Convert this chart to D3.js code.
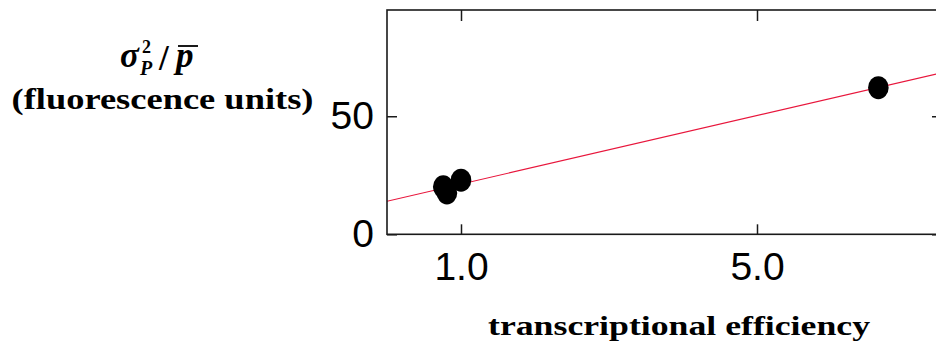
<!DOCTYPE html>
<html>
<head>
<meta charset="utf-8">
<script src="https://cdn.jsdelivr.net/npm/d3@7/dist/d3.min.js"></script>
<style>
html,body{margin:0;padding:0;background:#fff;}
svg{display:block;}
</style>
</head>
<body>
<svg id="chart" width="936" height="345"></svg>
<script>
// ---- data ----
const efficiency = [0.76, 0.81, 1.00, 6.64];
const noiseStrength = [20.1, 17.5, 22.9, 62.1];
const fitIntercept = 14.0;
const fitSlope = 7.26;
const fitX = [0, 7.5];
const xTickValues = [1.0, 5.0];
const yTickValues = [0, 50];
const xDomain = [0, 7.5];
const yDomain = [0, 95];
const xLabel = "transcriptional efficiency";
const yLabelUnits = "(fluorescence units)";

// ---- layout ----
const svg = d3.select("#chart");
const L = 387, R = 942, T = 10, B = 234.3;
const x = d3.scaleLinear().domain(xDomain).range([L, R]);
const y = d3.scaleLinear().domain(yDomain).range([B, T]);
const axisColor = "#1a1a1a";
const tickFont = "'Liberation Sans', Arial, Helvetica, sans-serif";
const serif = "'Liberation Serif', 'Times New Roman', serif";

svg.append("defs").append("clipPath").attr("id", "plotclip")
  .append("rect").attr("x", L).attr("y", T).attr("width", R - L).attr("height", B - T);

// fit line
const fitPts = fitX.map(v => [v, fitIntercept + fitSlope * v]);
svg.append("path")
  .attr("clip-path", "url(#plotclip)")
  .attr("d", d3.line().x(d => x(d[0])).y(d => y(d[1]))(fitPts))
  .attr("fill", "none").attr("stroke", "#e8163c").attr("stroke-width", 1.2);

// points
svg.append("g").selectAll("ellipse")
  .data(efficiency.map((e, i) => ({ e, v: noiseStrength[i] })))
  .join("ellipse")
  .attr("cx", d => x(d.e)).attr("cy", d => y(d.v))
  .attr("rx", 10.3).attr("ry", 11.5)
  .attr("fill", "#000");

// axes
function styleAxis(g, showLabels) {
  g.select(".domain").remove();
  g.selectAll(".tick line").attr("stroke", axisColor).attr("stroke-width", 1.5);
  g.selectAll(".tick text").attr("fill", "#000").attr("font-family", tickFont).attr("font-size", 39);
  if (!showLabels) g.selectAll(".tick text").remove();
}
svg.append("g").attr("transform", `translate(${L},0)`)
  .call(d3.axisLeft(y).tickValues(yTickValues).tickSize(-10).tickPadding(13).tickFormat(d3.format("d")))
  .call(g => styleAxis(g, true));
svg.append("g").attr("transform", `translate(${R},0)`)
  .call(d3.axisRight(y).tickValues(yTickValues).tickSize(-10))
  .call(g => styleAxis(g, false));
svg.append("g").attr("transform", `translate(0,${B})`)
  .call(d3.axisBottom(x).tickValues(xTickValues).tickSize(-10).tickPadding(18).tickFormat(d3.format(".1f")))
  .call(g => styleAxis(g, true));
svg.append("g").attr("transform", `translate(0,${T})`)
  .call(d3.axisTop(x).tickValues(xTickValues).tickSize(-11))
  .call(g => styleAxis(g, false));

// frame
svg.append("rect").attr("x", L).attr("y", T).attr("width", R - L).attr("height", B - T)
  .attr("fill", "none").attr("stroke", axisColor).attr("stroke-width", 1.6);

// x label
svg.append("text").attr("x", 679).attr("y", 335).attr("text-anchor", "middle")
  .attr("font-family", serif).attr("font-weight", "bold").attr("font-size", 28)
  .attr("textLength", 382).attr("lengthAdjust", "spacingAndGlyphs")
  .text(xLabel);

// y label units
svg.append("text").attr("x", 162.5).attr("y", 109).attr("text-anchor", "middle")
  .attr("font-family", serif).attr("font-weight", "bold").attr("font-size", 29)
  .attr("textLength", 302).attr("lengthAdjust", "spacingAndGlyphs")
  .text(yLabelUnits);

// y label math: sigma^2_P / p-bar (single text element with positioned tspans)
const mt = svg.append("text").attr("font-family", serif).attr("font-weight", "bold").attr("fill", "#000");
mt.append("tspan").attr("x", 120).attr("y", 67).attr("font-size", 35).attr("font-style", "italic").text("σ");
mt.append("tspan").attr("x", 142).attr("y", 52.5).attr("font-size", 18).text("2");
mt.append("tspan").attr("x", 140).attr("y", 75).attr("font-size", 20).attr("font-style", "italic").text("P");
mt.append("tspan").attr("x", 159).attr("y", 70).attr("font-size", 35).text("/");
mt.append("tspan").attr("x", 176).attr("y", 67).attr("font-size", 35).attr("font-style", "italic").text("p");
svg.append("line").attr("x1", 178).attr("x2", 198).attr("y1", 46).attr("y2", 46)
  .attr("stroke", "#000").attr("stroke-width", 1.8);
</script>
</body>
</html>
